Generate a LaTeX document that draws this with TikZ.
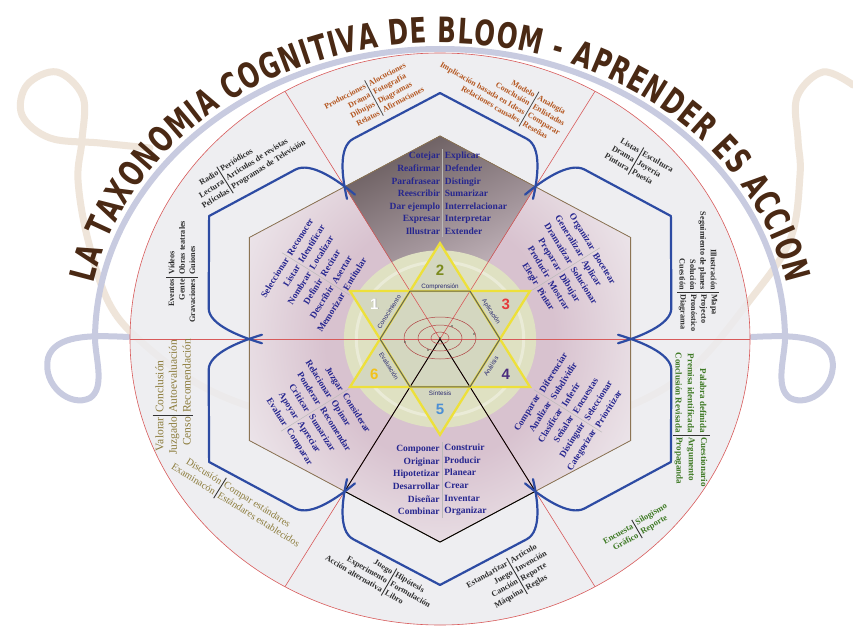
\documentclass[tikz,border=0pt]{standalone}
\usepackage{fontspec}
\setmainfont{Liberation Serif}
\newfontfamily\titlefont{DejaVu Sans}[FakeStretch=0.7]
\newfontfamily\labfont{Liberation Sans}
\usetikzlibrary{decorations.text}
\definecolor{verbblue}{HTML}{26268F}
\definecolor{titlebrown}{HTML}{4A2914}
\definecolor{orangetxt}{HTML}{B4561F}
\definecolor{darktxt}{HTML}{2E2E2E}
\definecolor{greentxt}{HTML}{3F7A25}
\definecolor{khakitxt}{HTML}{8C7C3C}
\definecolor{petalblue}{HTML}{2D4BA3}
\definecolor{redline}{HTML}{D85A5A}
\definecolor{hexbrown}{HTML}{8C7454}
\definecolor{lavband}{HTML}{C8CBE0}
\definecolor{beigeband}{HTML}{EFE5DA}
\definecolor{diskfill}{HTML}{ECECEF}
\definecolor{glowpink}{HTML}{D8C2CF}
\definecolor{glowmid}{HTML}{E6DAE1}
\definecolor{hexedge}{HTML}{F3F2F5}
\definecolor{starbg}{HTML}{DFE1C2}
\definecolor{starfill}{HTML}{D4D7C0}
\definecolor{staryellow}{HTML}{EDE03A}
\definecolor{navylab}{HTML}{2A2A70}
\definecolor{wedgedark}{HTML}{6C5F61}
\definecolor{wedgemid}{HTML}{A3959B}
\definecolor{wedgelight}{HTML}{E0D2D9}
\definecolor{orbitred}{HTML}{B04545}
\definecolor{numtwo}{HTML}{7C8B1F}
\definecolor{numthree}{HTML}{E63B3B}
\definecolor{numfour}{HTML}{4B2C7E}
\definecolor{numfive}{HTML}{4C8FD4}
\definecolor{numsix}{HTML}{F2C21A}
\pgfdeclareradialshading{hexglow}{\pgfpoint{0bp}{0bp}}{color(0bp)=(glowpink); color(15bp)=(glowpink); color(24bp)=(glowmid); color(34bp)=(hexedge); color(50bp)=(hexedge)}
% #1 name, #2 position, #3 angle, #4 text style, #5 left column, #6 right column, #7 half length of rule, #8 rule style
\newcommand\twocolgrp[8]{%
  \node[#4, rotate=#3, anchor=east, align=right] (#1l) at #2 {#5};
  \node[#4, rotate=#3, anchor=west, align=left] (#1r) at #2 {#6};
  \draw[#8] #2 ++({#3+90}:#7) -- ++({#3-90}:{2*#7});
}
\begin{document}
\begin{tikzpicture}[x=1pt, y=1pt,
  verb/.style={font=\bfseries\fontsize{9.5}{12.6}\selectfont, text=verbblue, inner xsep=2.2pt, inner ysep=0pt},
  verbr/.style={font=\bfseries\fontsize{9.2}{13.2}\selectfont, text=verbblue, inner xsep=2.2pt, inner ysep=0pt},
  outd/.style={font=\bfseries\fontsize{8.2}{10.4}\selectfont, text=darktxt, inner xsep=2pt, inner ysep=0pt},
  outo/.style={font=\bfseries\fontsize{8}{10}\selectfont, text=orangetxt, inner xsep=2pt, inner ysep=0pt},
  outg/.style={font=\bfseries\fontsize{9}{12.3}\selectfont, text=greentxt, inner xsep=2pt, inner ysep=0pt},
  outgs/.style={font=\bfseries\fontsize{8.5}{10.5}\selectfont, text=greentxt, inner xsep=2pt, inner ysep=0pt},
  outk/.style={font=\fontsize{11.5}{13.6}\selectfont, text=khakitxt, inner xsep=2pt, inner ysep=0pt},
  outkb/.style={font=\fontsize{10}{12}\selectfont, text=khakitxt, inner xsep=2pt, inner ysep=0pt},
  vsep/.style={draw=gray!55, line width=0.5pt},
  osep/.style={draw=black!80, line width=0.9pt},
  orsep/.style={draw=black!70, line width=0.8pt},
  petal/.style={draw=petalblue, line width=2.2pt, line join=round, line cap=round},
  redl/.style={draw=redline, line width=0.6pt},
  hexl/.style={draw=hexbrown, line width=0.8pt},
  staryel/.style={draw=staryellow, line width=2.3pt, line join=miter},
  starlab/.style={font=\labfont\fontsize{6.3}{7}\selectfont, text=navylab, inner sep=0.5pt},
  num/.style={font=\labfont\bfseries\fontsize{15}{15}\selectfont, inner sep=0pt},
  orbit/.style={draw=orbitred, line width=0.5pt}
]
\useasboundingbox (0,0) rectangle (853,-628);
\fill[white] (0,0) rectangle (853,-628);

% background ribbons
\draw[beigeband, line width=7pt, line cap=round] plot[smooth, tension=0.6] coordinates {(150,-148) (100,-143) (50,-138) (22,-115) (27,-85) (57,-72) (83,-97) (82,-140) (78,-180) (88,-240) (110,-305) (145,-345) (200,-385) (260,-410) (350,-435) (440,-443) (530,-435) (620,-410) (690,-370) (750,-300) (790,-240) (800,-175) (798,-140) (797,-97) (823,-72) (853,-85)};
\draw[lavband, line width=6pt, line cap=round] (128,-337) .. controls (90,-335) and (55,-335) .. (48,-358) .. controls (42,-385) and (70,-408) .. (90,-398) .. controls (105,-388) and (96,-360) .. (95,-340) arc[start angle=180, end angle=0, x radius=345, y radius=291] .. controls (784,-360) and (775,-388) .. (790,-398) .. controls (810,-408) and (838,-385) .. (832,-358) .. controls (825,-335) and (790,-335) .. (752,-337);

% disk
\fill[diskfill, opacity=0.85] (440,-339) ellipse [x radius=310, y radius=286];

\begin{scope}[shift={(440,-339)}, xscale=310, yscale=286]
  % hexagon glow
  \fill[shading=hexglow] (30:0.71) -- (90:0.71) -- (150:0.71) -- (210:0.71) -- (270:0.71) -- (330:0.71) -- cycle;
  % dark top wedge
  \fill[top color=wedgedark, bottom color=wedgelight, middle color=wedgemid, shading angle=25] (0,0) -- (60:0.615) -- (90:0.71) -- (120:0.615) -- cycle;
  % star background
  \fill[starbg] (0,0) circle (0.31);
  \draw[white, opacity=0.35, line width=3pt] (0,0) circle (0.27);
  \fill[starfill] (90:0.335) -- (210:0.335) -- (330:0.335) -- cycle (30:0.335) -- (150:0.335) -- (270:0.335) -- cycle;
  % red lines
  \draw[redl] (0,0) circle (1);
  \draw[redl] (0:1) -- (180:1);
  \draw[redl] (60:1) -- (240:1);
  \draw[redl] (120:1) -- (300:1);
  % hexagon outline
  \draw[hexl] (270:0.71) -- (330:0.71) -- (30:0.71) -- (90:0.71) -- (150:0.71) -- (210:0.71) -- (270:0.71);
  \draw[black, line width=0.9pt, line join=round] (0,0) -- (240:0.615) -- (270:0.71) -- (300:0.615) -- cycle;
  % petals
  \foreach \a in {0,60,...,300}{
    \draw[petal, rotate=\a] (-0.30,0.49) .. controls (-0.315,0.56) and (-0.33,0.671) .. (-0.28,0.70) -- (0,0.86) -- (0.28,0.70) .. controls (0.33,0.671) and (0.315,0.56) .. (0.30,0.49);
  }
  % star
  \draw[staryel] (90:0.335) -- (210:0.335) -- (330:0.335) -- cycle;
  \draw[staryel] (30:0.335) -- (150:0.335) -- (270:0.335) -- cycle;
  \draw[gray!75!black, line width=1pt] (0:0.1934) -- (60:0.1934) -- (120:0.1934) -- (180:0.1934) -- (240:0.1934) -- (300:0.1934) -- cycle;
  % labels of the levels
  \node[starlab] (lcomp) at (90:0.183) {Comprensión};
  \node[starlab, rotate=-57.5] (lapl) at (30:0.19) {Aplicación};
  \node[starlab, rotate=57.5] (lana) at (-30:0.19) {Análisis};
  \node[starlab] (lsin) at (270:0.19) {Síntesis};
  \node[starlab, rotate=-57.5] (leva) at (210:0.19) {Evaluación};
  \node[starlab, rotate=57.5] (lcon) at (150:0.19) {Conocimiento};
  % numbers
  \node[num, text=numtwo] (ntwo) at (90:0.24) {2};
  \node[num, text=numthree] (nthree) at (30:0.245) {3};
  \node[num, text=numfour] (nfour) at (-30:0.245) {4};
  \node[num, text=numfive] (nfive) at (270:0.245) {5};
  \node[num, text=numsix] (nsix) at (210:0.245) {6};
\end{scope}
\node[num, text=gray!65] (nones) at (375,-304.8) {1};
\node[num, text=white] (none) at (374.2,-304) {1};

% central orbits
\draw[orbit] (440,-338) ellipse [x radius=36, y radius=21];
\draw[orbit] (440,-338) ellipse [x radius=22, y radius=13];
\draw[orbit] (440,-338) ellipse [x radius=9, y radius=6];
\fill[black!70] (405,-342) circle (0.9) (474,-334) circle (0.9) (452,-326) circle (0.9) (428,-350) circle (0.9) (440,-338) circle (1.2);

% verbs
\twocolgrp{vT}{(442.5,-193.5)}{0}{verb}{Cotejar\\Reafirmar\\Parafrasear\\Reescribir\\Dar ejemplo\\Expresar\\Illustrar}{Explicar\\Defender\\Distingir\\Sumarizar\\Interrelacionar\\Interpretar\\Extender}{44}{vsep}
\twocolgrp{vUL}{(316,-274)}{58}{verbr}{Seleccionar\\Listar\\Nombrar\\Definir\\Describir\\Memorizar}{Reconocer\\Identificar\\Localizar\\Recitar\\Asertar\\Entitular}{40}{vsep}
\twocolgrp{vUR}{(566,-269)}{-58}{verbr}{Organizar\\Generalizar\\Dramatizar\\Preparar\\Producir\\Elegir}{Bocetear\\Aplicar\\Solucionar\\Dibujar\\Mostrar\\Pintar}{40}{vsep}
\twocolgrp{vLR}{(568,-411)}{58}{verbr}{Comparar\\Analizar\\Clasificar\\Señalar\\Distinguir\\Categorizar}{Diferenciar\\Subdividir\\Inferir\\Encuestas\\Seleccionar\\Prioritizar}{40}{vsep}
\twocolgrp{vLL}{(315,-410)}{-58}{verbr}{Juzgar\\Relacionar\\Ponderar\\Criticar\\Apoyar\\Evaluar}{Considerar\\Opinar\\Recomendar\\Sumarizar\\Apreciar\\Comparar}{40}{vsep}
\twocolgrp{vB}{(442,-480)}{0}{verb}{Componer\\Originar\\Hipotetizar\\Desarrollar\\Diseñar\\Combinar}{Construir\\Producir\\Planear\\Crear\\Inventar\\Organizar}{38}{vsep}

% outer products
\twocolgrp{oA}{(225,-180)}{32}{outd}{Radio\\Lectura\\Películas}{Periódicos\\Artículos de revistas\\Programas de Televisión}{15.6}{osep}
\twocolgrp{oB}{(182,-277)}{90}{outd}{Eventos\\Gente\\Gravaciones}{Vídeos\\Obras teatrales\\Guiones}{15.6}{osep}
\twocolgrp{oC}{(173,-415)}{90}{outk}{Valorar\\Juzgado\\Censo}{Conclusión\\Autoevaluación\\Recomendación}{20.4}{osep}
\twocolgrp{oD}{(220,-488)}{-32}{outkb}{Discusión\\Examinacón}{Compar estándares\\Estándares establecidos}{12}{osep}
\twocolgrp{oE}{(636,-161)}{-30}{outd}{Listas\\Drama\\Pintura}{Escultura\\Joyería\\Poesía}{15.6}{osep}
\twocolgrp{oF}{(698,-292)}{-90}{outd}{Illustración\\Seguimiento de planes\\Solución\\Cuestión}{Mapa\\Projecto\\Pronóstico\\Diagrama}{20.8}{osep}
\twocolgrp{oG}{(691,-435)}{-90}{outg}{Palabra definida\\Premisa identificada\\Conclusión Revisada}{Cuestionario\\Argumento\\Propaganda}{18.5}{osep}
\twocolgrp{oH}{(637,-529)}{30}{outgs}{Encuesta\\Gráfico}{Silogismo\\Reporte}{10.5}{osep}
\twocolgrp{oI}{(389,-582)}{-30}{outd}{Juego\\Experimento\\Acción alternativa}{Hipótesis\\Formulación\\Libro}{15.6}{osep}
\twocolgrp{oJ}{(517,-576)}{30}{outd}{Estandarizar\\Juego\\Canción\\Máquina}{Artículo\\Invención\\Reporte\\Reglas}{20.8}{osep}
\twocolgrp{oK}{(374,-98)}{28}{outo}{Producciones\\Drama\\Dibujos\\Relatos}{Alocuciones\\Fotografía\\Diagramas\\Afirmaciones}{20}{orsep}
\twocolgrp{oL}{(529,-109)}{-30}{outo}{Modelo\\Conclusión\\Implicación basada en Ideas\\Relaciones causales}{Analogía\\Enlistados\\Comparar\\Reseñas}{20}{orsep}

% title
\path[decorate, decoration={text along path, text={|\titlefont\bfseries\fontsize{35}{40}\selectfont|LA TAXONOMIA COGNITIVA DE BLOOM - APRENDER ES ACCION}, text color=titlebrown, text align={fit to path}}] (93.5,-283.3) arc[start angle=169, end angle=11, x radius=353, y radius=297];
\end{tikzpicture}
\end{document}
